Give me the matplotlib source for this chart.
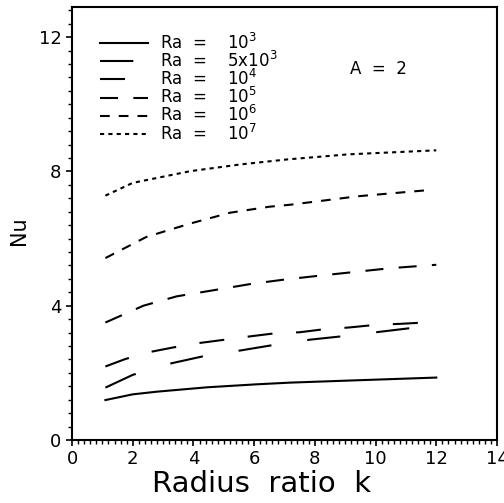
import matplotlib
matplotlib.use("Agg")
import matplotlib.pyplot as plt
from matplotlib.ticker import MultipleLocator

plt.rcParams['font.family'] = ['DejaVu Sans']
plt.rcParams['lines.scale_dashes'] = False
plt.rcParams['mathtext.fontset'] = 'dejavusans'

# Data (k = radius ratio, Nu = Nusselt number)
k_1e3 = [1.1, 2.0, 2.8, 4.45, 6.1, 7.2, 9.1, 12.0]
nu_1e3 = [1.19, 1.36, 1.44, 1.57, 1.66, 1.71, 1.77, 1.86]

k_5e3 = [1.1, 2.0, 3.2, 4.3, 5.5, 6.7, 7.85, 9.0, 10.2, 11.4]
nu_5e3 = [1.56, 1.94, 2.27, 2.49, 2.66, 2.84, 2.99, 3.10, 3.23, 3.36]

k_1e4 = [1.1, 1.75, 2.5, 3.35, 4.2, 5.05, 5.8, 6.7, 7.5, 8.3, 9.1, 10.0, 10.8, 11.6]
nu_1e4 = [2.19, 2.41, 2.61, 2.76, 2.89, 2.99, 3.08, 3.18, 3.21, 3.30, 3.35, 3.43, 3.46, 3.50]

k_1e5 = [1.1, 2.35, 3.45, 4.65, 5.9, 7.0, 8.2, 10.5, 12.0]
nu_1e5 = [3.50, 4.00, 4.28, 4.46, 4.65, 4.78, 4.90, 5.12, 5.22]

k_1e6 = [1.1, 2.45, 3.9, 5.2, 6.5, 7.2, 9.4, 11.8]
nu_1e6 = [5.42, 6.05, 6.45, 6.77, 6.95, 7.01, 7.26, 7.45]

k_1e7 = [1.1, 2.0, 3.9, 5.55, 7.1, 9.1, 12.0]
nu_1e7 = [7.28, 7.66, 8.01, 8.21, 8.36, 8.51, 8.63]

labels = [r'Ra  =    10$^{3}$', r'Ra  =    5x10$^{3}$', r'Ra  =    10$^{4}$',
          r'Ra  =    10$^{5}$', r'Ra  =    10$^{6}$', r'Ra  =    10$^{7}$']

fig = plt.figure(figsize=(5.04, 5.03), dpi=100)
ax = fig.add_axes([72/504, 63/503, 425/504, 433/503])

lw = 1.5
ax.plot(k_1e3, nu_1e3, color='black', lw=lw, label=labels[0])
ax.plot(k_5e3, nu_5e3, color='black', lw=lw, dashes=(24, 26), label=labels[1])
ax.plot(k_1e4, nu_1e4, color='black', lw=lw, dashes=(18, 17), label=labels[2])
ax.plot(k_1e5, nu_1e5, color='black', lw=lw, dashes=(13, 11), label=labels[3])
ax.plot(k_1e6, nu_1e6, color='black', lw=lw, dashes=(7, 6.5), label=labels[4])
ax.plot(k_1e7, nu_1e7, color='black', lw=lw, dashes=(3, 3), label=labels[5])

ax.set_xlim(0, 14)
ax.set_ylim(0, 12.9)
ax.xaxis.set_major_locator(MultipleLocator(2))
ax.xaxis.set_minor_locator(MultipleLocator(0.2))
ax.yaxis.set_major_locator(MultipleLocator(4))
ax.yaxis.set_minor_locator(MultipleLocator(0.4))
ax.tick_params(which='major', direction='out', length=4.5, width=1.2, labelsize=13, pad=3)
ax.tick_params(which='minor', direction='out', length=3, width=1.0)
for s in ax.spines.values():
    s.set_linewidth(1.5)

ax.set_xlabel('Radius  ratio  k', fontsize=21, labelpad=1, x=(262 - 72) / 425)
ax.set_ylabel('Nu', fontsize=15, labelpad=7, y=0.483)

ax.text(10.1, 11.04, 'A  =  2', fontsize=12, ha='center', va='center')

leg = ax.legend(loc='upper left', bbox_to_anchor=(0.066, 0.94), frameon=False,
                fontsize=12, handlelength=2.9, handletextpad=0.7,
                labelspacing=-0.12, borderpad=0, borderaxespad=0)

fig.savefig('out.png', dpi=100)
